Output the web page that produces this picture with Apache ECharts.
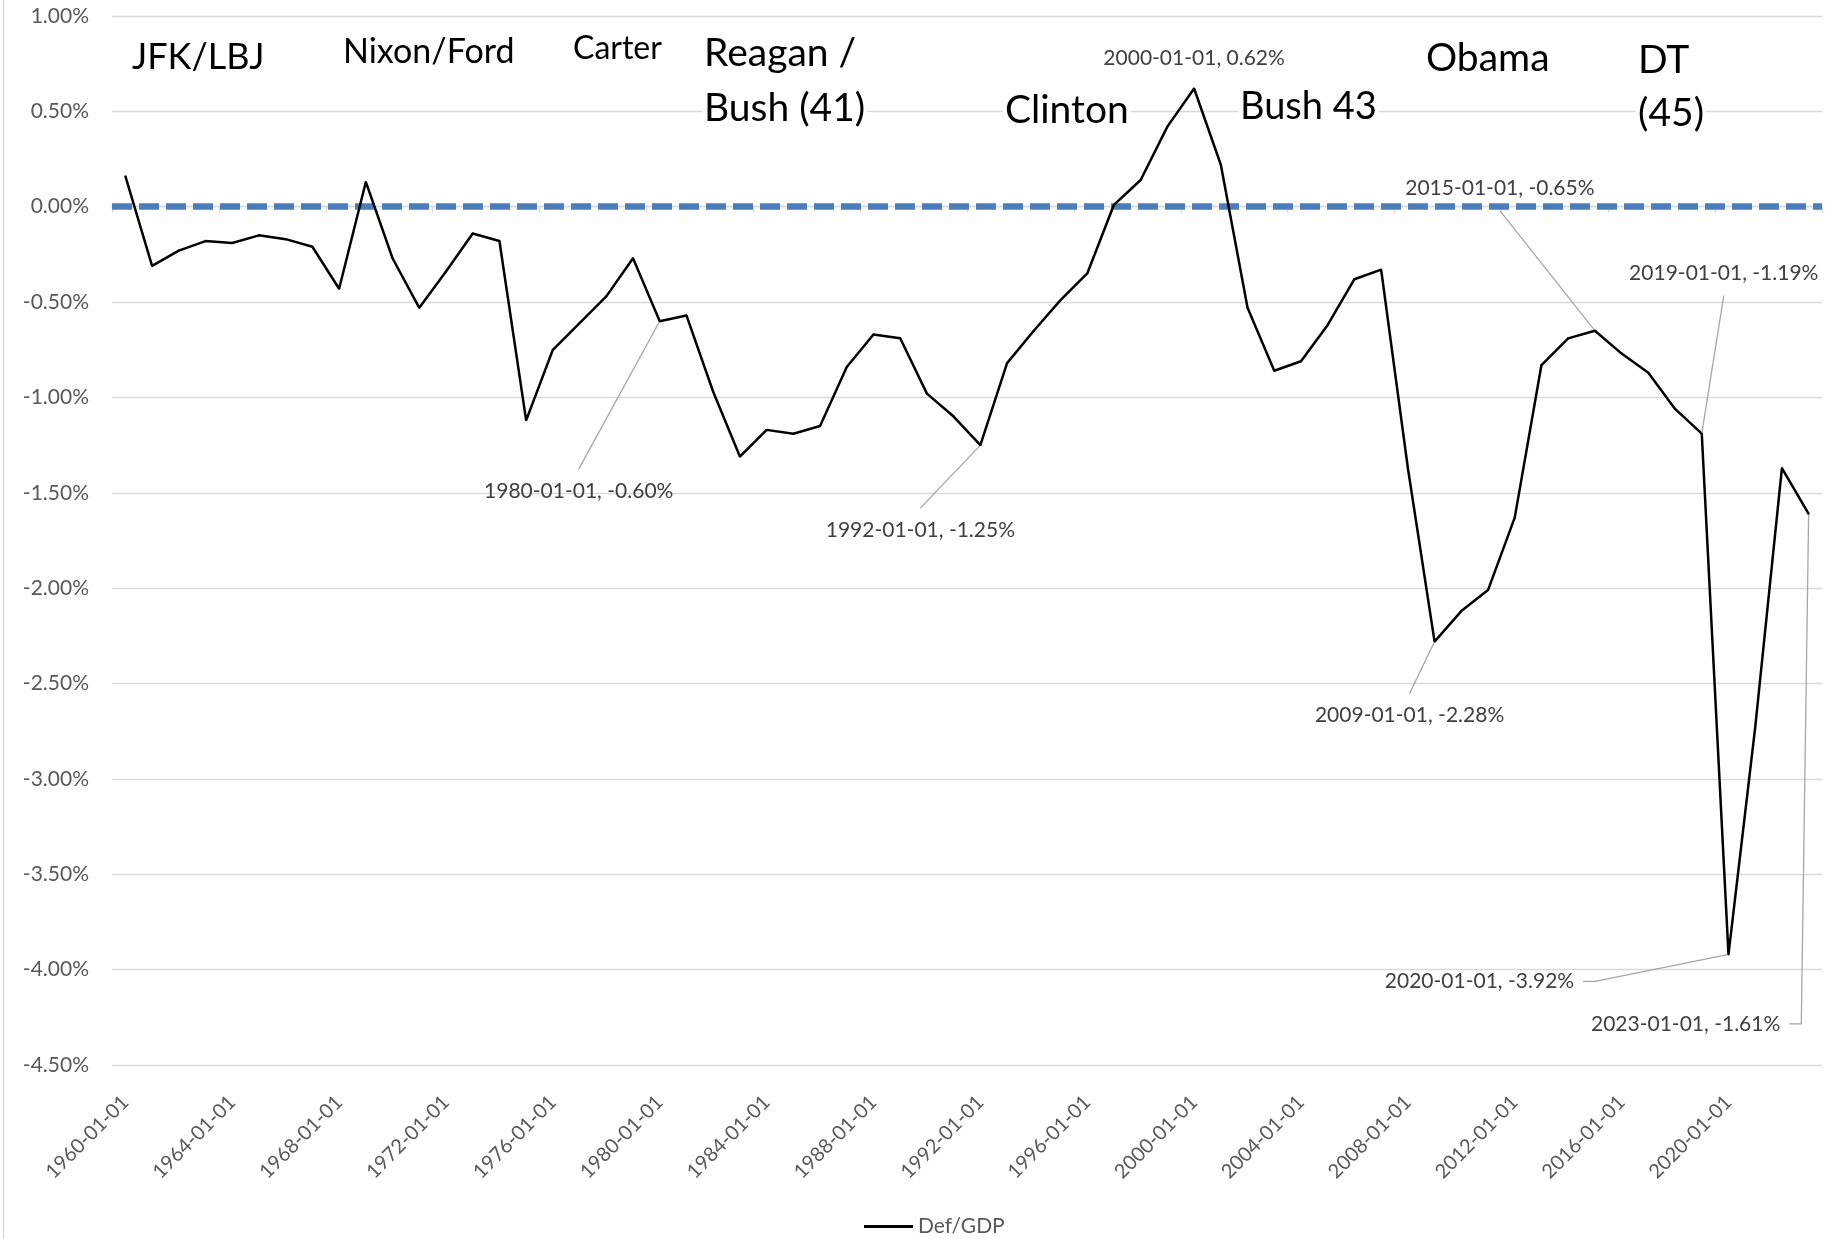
<!DOCTYPE html>
<html>
<head>
<meta charset="utf-8">
<title>Def/GDP</title>
<script src="https://cdn.jsdelivr.net/npm/echarts@6/dist/echarts.min.js"></script>
<style>
  html, body { margin: 0; padding: 0; background: #ffffff; }
  #chart { width: 1832px; height: 1239px; }
</style>
</head>
<body>
<div id="chart"></div>
<script>
// Observation dates, one per year
const years = [
  '1960-01-01','1961-01-01','1962-01-01','1963-01-01','1964-01-01','1965-01-01','1966-01-01','1967-01-01','1968-01-01','1969-01-01',
  '1970-01-01','1971-01-01','1972-01-01','1973-01-01','1974-01-01','1975-01-01','1976-01-01','1977-01-01','1978-01-01','1979-01-01',
  '1980-01-01','1981-01-01','1982-01-01','1983-01-01','1984-01-01','1985-01-01','1986-01-01','1987-01-01','1988-01-01','1989-01-01',
  '1990-01-01','1991-01-01','1992-01-01','1993-01-01','1994-01-01','1995-01-01','1996-01-01','1997-01-01','1998-01-01','1999-01-01',
  '2000-01-01','2001-01-01','2002-01-01','2003-01-01','2004-01-01','2005-01-01','2006-01-01','2007-01-01','2008-01-01','2009-01-01',
  '2010-01-01','2011-01-01','2012-01-01','2013-01-01','2014-01-01','2015-01-01','2016-01-01','2017-01-01','2018-01-01','2019-01-01',
  '2020-01-01','2021-01-01','2022-01-01','2023-01-01'
];

// Deficit / GDP, percent
const defGdp = [
   0.16, -0.31, -0.23, -0.18, -0.19, -0.15, -0.17, -0.21, -0.43,  0.13,
  -0.27, -0.53, -0.34, -0.14, -0.18, -1.12, -0.75, -0.61, -0.47, -0.27,
  -0.60, -0.57, -0.97, -1.31, -1.17, -1.19, -1.15, -0.84, -0.67, -0.69,
  -0.98, -1.10, -1.25, -0.82, -0.65, -0.49, -0.35,  0.01,  0.14,  0.42,
   0.62,  0.22, -0.53, -0.86, -0.81, -0.62, -0.38, -0.33, -1.37, -2.28,
  -2.12, -2.01, -1.63, -0.83, -0.69, -0.65, -0.77, -0.87, -1.06, -1.19,
  -3.92, -2.73, -1.37, -1.61
];

// Value axis range and step, percent
const yMin = -4.5;
const yMax = 1.0;
const yStep = 0.5;

// Dates that carry a value label
const labelledDates = ['1980-01-01', '1992-01-01', '2000-01-01', '2009-01-01',
                       '2015-01-01', '2019-01-01', '2020-01-01', '2023-01-01'];

// Administration names written across the top
const eraNames = ['JFK/LBJ', 'Nixon/Ford', 'Carter', 'Reagan /\nBush (41)',
                  'Clinton', 'Bush 43', 'Obama', 'DT\n(45)'];

// ---- layout & styling ----
const FONT = 'Lato, "Open Sans", sans-serif';

// Where each value label sits relative to its point (px) and how its leader is drawn.
// Wide side padding is invisible; it only steers which edge the leader line meets.
const calloutPlacement = {
  '1980-01-01': { dx: -81,  dy: 170,  pad: [9, 70, 9, 70],  leader: true,  stub: 0 },
  '1992-01-01': { dx: -60,  dy: 85,   pad: [9, 70, 9, 70],  leader: true,  stub: 0 },
  '2000-01-01': { dx: 0,    dy: -30,  pad: [0, 0, 0, 0],    leader: false, stub: 0 },
  '2009-01-01': { dx: -25,  dy: 74,   pad: [9, 70, 9, 70],  leader: true,  stub: 0 },
  '2015-01-01': { dx: -95,  dy: -142, pad: [9, 70, 9, 70],  leader: true,  stub: 0 },
  '2019-01-01': { dx: 22,   dy: -160, pad: [9, 70, 9, 70],  leader: true,  stub: 0 },
  '2020-01-01': { dx: -249, dy: 27,   pad: [9, 9, 9, 9],    leader: true,  stub: 12 },
  '2023-01-01': { dx: -123, dy: 510,  pad: [9, 9, 9, 200],  leader: true,  stub: 12 }
};

// Text boxes for the administration names (left edge, vertical centre, font size, line height)
const eraPlacement = [
  { x: 130,  y: 57,  size: 36, lh: 54 },
  { x: 341,  y: 52,  size: 34, lh: 54 },
  { x: 571,  y: 49,  size: 32, lh: 54 },
  { x: 702,  y: 81,  size: 39, lh: 54.5 },
  { x: 1003, y: 110, size: 39, lh: 54 },
  { x: 1238, y: 107, size: 38, lh: 54 },
  { x: 1424, y: 58,  size: 39, lh: 54 },
  { x: 1636, y: 87,  size: 39, lh: 53 }
];

const pct = v => (Math.abs(v) < 1e-9 ? 0 : v).toFixed(2) + '%';

const seriesData = defGdp.map((v, i) => {
  const date = years[i];
  if (labelledDates.indexOf(date) < 0) return v;
  const c = calloutPlacement[date];
  return {
    value: v,
    label: {
      show: true,
      position: 'inside',
      padding: c.pad,
      formatter: p => p.name + ', ' + pct(p.value)
    },
    labelLine: {
      show: c.leader,
      length2: c.stub,
      lineStyle: { color: '#A6A6A6', width: 1.3 }
    }
  };
});

const chart = echarts.init(document.getElementById('chart'), null, { renderer: 'canvas' });

chart.setOption({
  animation: false,
  backgroundColor: '#ffffff',
  textStyle: { fontFamily: FONT },
  grid: { left: 112, right: 10, top: 16, bottom: 174, containLabel: false, outerBoundsMode: 'none' },
  legend: {
    data: ['Def/GDP'],
    left: 859,
    top: 1211,
    icon: 'rect',
    itemWidth: 49,
    itemHeight: 3,
    selectedMode: false,
    textStyle: { fontFamily: FONT, fontSize: 21, color: '#595959' }
  },
  xAxis: [
    {
      // date labels along the bottom edge
      type: 'category',
      data: years,
      boundaryGap: true,
      position: 'bottom',
      axisLine: { show: false, onZero: false },
      axisTick: { show: false },
      splitLine: { show: false },
      axisLabel: {
        interval: 3,
        rotate: 45,
        margin: 34,
        fontFamily: FONT,
        fontSize: 20,
        color: '#595959'
      }
    },
    {
      // axis line and ticks crossing at zero
      type: 'category',
      data: years,
      boundaryGap: true,
      position: 'bottom',
      axisLine: { show: true, onZero: true, lineStyle: { color: '#D9D9D9', width: 1.3 } },
      axisTick: { show: true, interval: 3, length: 6, lineStyle: { color: '#D9D9D9', width: 1.3 } },
      axisLabel: { show: false },
      splitLine: { show: false }
    }
  ],
  yAxis: {
    type: 'value',
    min: yMin,
    max: yMax,
    interval: yStep,
    axisLine: { show: false },
    axisTick: { show: false },
    axisLabel: {
      margin: 23,
      fontFamily: FONT,
      fontSize: 21,
      color: '#595959',
      formatter: v => pct(v)
    },
    splitLine: { show: true, lineStyle: { color: '#D9D9D9', width: 1.3 } }
  },
  series: [
    {
      name: 'Def/GDP',
      type: 'line',
      xAxisIndex: 0,
      yAxisIndex: 0,
      data: seriesData,
      z: 3,
      showSymbol: true,
      showAllSymbol: true,
      symbol: 'circle',
      symbolSize: 2,
      itemStyle: { color: '#000000' },
      lineStyle: { color: '#000000', width: 2.5 },
      emphasis: { disabled: true },
      label: {
        show: false,
        fontFamily: FONT,
        fontSize: 21,
        lineHeight: 26,
        color: '#404040'
      },
      labelLine: { show: false },
      labelLayout: function (params) {
        const c = calloutPlacement[years[params.dataIndex]];
        if (!c) return {};
        // padding shifts the text inside its box; compensate so the text sits at dx
        const shift = (c.pad[3] - c.pad[1]) / 2;
        return { dx: c.dx - shift, dy: c.dy, hideOverlap: false };
      },
      markLine: {
        silent: true,
        z: 1,
        symbol: ['none', 'none'],
        label: { show: false },
        emphasis: { disabled: true },
        lineStyle: { color: '#4A7EBB', width: 6.5, type: [20, 7] },
        data: [{ yAxis: 0 }]
      }
    }
  ],
  graphic: {
    elements: [
      {
        type: 'line',
        silent: true,
        shape: { x1: 3.5, y1: 0, x2: 3.5, y2: 1239 },
        style: { stroke: '#D9D9D9', lineWidth: 1.3 }
      }
    ].concat(eraNames.map((name, i) => {
      const p = eraPlacement[i];
      return {
        type: 'text',
        silent: true,
        z: 100,
        x: p.x,
        y: p.y,
        style: {
          text: name,
          fill: '#000000',
          font: p.size + 'px ' + FONT,
          lineHeight: p.lh,
          backgroundColor: '#ffffff',
          padding: [0, 2],
          textAlign: 'left',
          align: 'left',
          textVerticalAlign: 'middle',
          verticalAlign: 'middle'
        }
      };
    }))
  }
});
</script>
</body>
</html>
